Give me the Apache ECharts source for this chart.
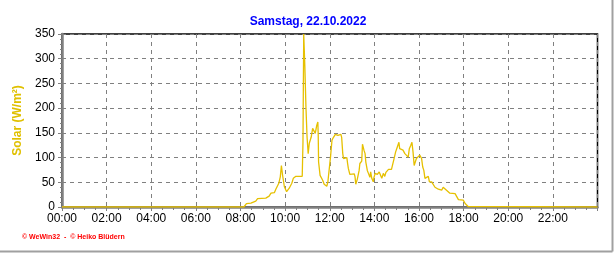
<!DOCTYPE html>
<html>
<head>
<meta charset="utf-8">
<script src="https://cdn.jsdelivr.net/npm/echarts@6/dist/echarts.min.js"></script>
<style>
html,body{margin:0;padding:0;background:#fff;}
#c{width:616px;height:253px;}
</style>
</head>
<body>
<div id="c"></div>
<script>
const chartTitle = "Samstag, 22.10.2022";
const yAxisName = "Solar (W/m²)";
const xTickLabels = ["00:00","02:00","04:00","06:00","08:00","10:00","12:00","14:00","16:00","18:00","20:00","22:00"];
const times = ["00:00","08:09","08:13","08:16","08:28","08:30","08:41","08:46","09:08","09:13","09:17","09:22","09:31","09:35","09:43","09:47","09:50","09:53","09:58","10:04","10:11","10:18","10:22","10:29","10:46","10:48","10:50","10:52","10:53","10:56","10:59","11:02","11:05","11:10","11:14","11:18","11:21","11:25","11:28","11:29","11:30","11:34","11:37","11:41","11:45","11:52","11:55","11:59","12:02","12:06","12:10","12:15","12:19","12:22","12:26","12:30","12:32","12:35","12:37","12:46","12:48","12:50","12:54","13:06","13:08","13:10","13:14","13:19","13:21","13:26","13:28","13:32","13:35","13:37","13:41","13:44","13:48","13:50","13:53","13:57","13:59","14:02","14:08","14:13","14:17","14:20","14:24","14:28","14:31","14:34","14:38","14:46","14:50","14:53","14:57","15:01","15:06","15:08","15:17","15:22","15:31","15:34","15:38","15:41","15:44","15:47","15:50","15:53","15:58","16:02","16:05","16:07","16:10","16:13","16:16","16:20","16:25","16:28","16:34","16:39","16:43","16:47","16:52","16:56","17:01","17:05","17:10","17:14","17:23","17:37","17:41","17:46","17:59","18:04","18:08","18:12","18:17","24:00"];
const solar = [0,0,3,7,8,11,12,17,18,21,22,28,29,36,48,61,84,65,41,31,38,48,58,62,62,131,350,350,285,202,141,108,129,141,159,155,149,165,172,145,91,64,64,54,46,42,51,54,101,135,141,147,151,145,149,147,141,108,98,100,88,78,66,67,61,46,56,74,88,93,127,115,108,91,74,68,60,71,58,51,60,68,66,71,74,58,68,62,70,66,76,76,78,98,111,120,131,118,115,108,101,118,125,131,111,84,91,98,98,105,108,98,81,74,58,62,62,51,51,48,40,43,36,40,34,40,40,34,28,27,31,15,14,7,6,1,0,0];

function toHours(s){const p=s.split(":");return (+p[0])+(+p[1])/60;}
const data = times.map((t,i)=>[toHours(t), solar[i]]);

const chart = echarts.init(document.getElementById('c'), null, {renderer:'canvas'});
const font = "'Liberation Sans', Arial, sans-serif";
chart.setOption({
  animation:false,
  backgroundColor:'#fff',
  title:{
    text:chartTitle, left:'center', top:11,
    textStyle:{color:'#0000ff', fontSize:12, fontWeight:'bold', fontFamily:font}
  },
  grid:{left:62, top:34, right:18.5, bottom:46, show:true, borderColor:'#000', borderWidth:1.5, backgroundColor:'#fff'},
  xAxis:{
    type:'value', min:0, max:24, interval:2,
    axisLine:{show:true, lineStyle:{color:'#808080', width:2.5}},
    axisTick:{show:true, length:4, lineStyle:{color:'#808080'}},
    minorTick:{show:true, splitNumber:4, length:3, lineStyle:{color:'#808080'}},
    axisLabel:{color:'#000', fontSize:12, fontFamily:font, margin:6,
      formatter:function(v){const i=Math.round(v/2);return (v<24 && xTickLabels[i])?xTickLabels[i]:'';}},
    splitLine:{show:true, lineStyle:{color:'#808080', type:[4,4], width:1}}
  },
  yAxis:{
    type:'value', min:0, max:350, interval:50,
    name:yAxisName, nameLocation:'middle', nameGap:33, nameRotate:90,
    nameTextStyle:{color:'#e0c000', fontSize:12, fontWeight:'bold', fontFamily:font},
    axisLine:{show:true, lineStyle:{color:'#808080', width:2.5}},
    axisTick:{show:true, length:4, lineStyle:{color:'#808080'}},
    minorTick:{show:true, splitNumber:5, length:2, lineStyle:{color:'#808080'}},
    axisLabel:{color:'#000', fontSize:12, fontFamily:font, margin:7},
    splitLine:{show:true, lineStyle:{color:'#808080', type:[4,4], width:1}}
  },
  series:[{
    type:'line', data:data, showSymbol:false, clip:true,
    lineStyle:{color:'#e6c000', width:1.3},
    itemStyle:{color:'#e6c000'}
  }],
  graphic:[
    {type:'text', left:22, top:234, style:{text:'© WeWin32  -  © Heiko Blüdern', fill:'#ff0000', font:'bold 7px ' + font}},
    {type:'line', shape:{x1:612.5, y1:0, x2:612.5, y2:251.5}, style:{stroke:'#a0a0a0', lineWidth:2}},
    {type:'line', shape:{x1:0, y1:251.5, x2:612.5, y2:251.5}, style:{stroke:'#a0a0a0', lineWidth:2}}
  ]
});
</script>
</body>
</html>
